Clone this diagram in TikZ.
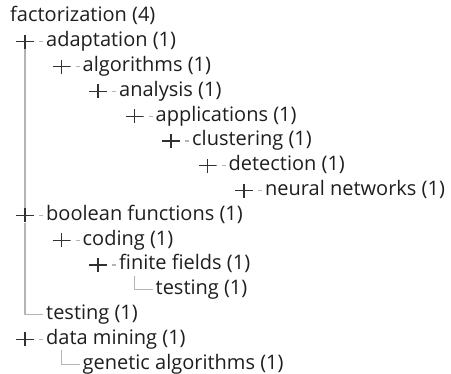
\documentclass[tikz,border=0pt]{standalone}
\usepackage{fontspec}
\setmainfont{Open Sans}
\usetikzlibrary{positioning}
\definecolor{treegray}{RGB}{180,180,180}
\definecolor{plusgray}{RGB}{50,50,50}
\definecolor{termblack}{RGB}{30,30,30}
\tikzset{
  termnode/.style={anchor=west,inner sep=0pt,text height=14pt,text depth=4pt,text=termblack,font=\fontsize{20}{24}\selectfont},
  expander/.style={minimum width=18pt,minimum height=14pt,inner sep=0pt,
    path picture={\draw[plusgray,line width=1.3pt] (path picture bounding box.west) -- (path picture bounding box.east) (path picture bounding box.north) -- (path picture bounding box.south);}},
  treeline/.style={treegray,line width=1.2pt},
  stub/.style={treegray,line width=1.2pt,shorten <=5pt,shorten >=3pt},
}
\begin{document}
\begin{tikzpicture}[x=1pt,y=-1pt,line join=bevel]
  \useasboundingbox (0,0) rectangle (451,374);

  \node (node_0) at (10,17) [termnode] {factorization (4)};
  \node (node_1) at (46,41.8) [termnode] {adaptation (1)};
  \node (node_2) at (82.5,66.6) [termnode] {algorithms (1)};
  \node (node_3) at (119,91.4) [termnode] {analysis (1)};
  \node (node_4) at (155.5,116.2) [termnode] {applications (1)};
  \node (node_5) at (192,141) [termnode] {clustering (1)};
  \node (node_6) at (228.5,165.8) [termnode] {detection (1)};
  \node (node_7) at (265,190.6) [termnode] {neural networks (1)};
  \node (node_8) at (46,215.4) [termnode] {boolean functions (1)};
  \node (node_9) at (82.5,240.2) [termnode] {coding (1)};
  \node (node_10) at (119,265) [termnode] {finite fields (1)};
  \node (node_11) at (155.5,289.8) [termnode] {testing (1)};
  \node (node_12) at (46,314.6) [termnode] {testing (1)};
  \node (node_13) at (46,339.4) [termnode] {data mining (1)};
  \node (node_14) at (82.5,364.2) [termnode] {genetic algorithms (1)};

  \node (plus_1) at (25,41.8) [expander] {};
  \node (plus_2) at (61.5,66.6) [expander] {};
  \node (plus_3) at (98,91.4) [expander] {};
  \node (plus_4) at (134.5,116.2) [expander] {};
  \node (plus_5) at (171,141) [expander] {};
  \node (plus_6) at (207.5,165.8) [expander] {};
  \node (plus_7) at (244,190.6) [expander] {};
  \node (plus_8) at (25,215.4) [expander] {};
  \node (plus_9) at (61.5,240.2) [expander] {};
  \node (plus_10) at (98,265) [expander] {};
  \node (plus_13) at (25,339.4) [expander] {};

  \coordinate (top_11) at (134.5,276);
  \coordinate (top_14) at (61.5,350);

  \draw [treeline] (plus_1.south) -- (plus_8.north);
  \draw [treeline] (plus_8.south) |- ([xshift=-3pt]node_12.west);
  \draw [treeline] (top_11) |- ([xshift=-3pt]node_11.west);
  \draw [treeline] (top_14) |- ([xshift=-3pt]node_14.west);

  \draw [stub] (plus_1) -- (node_1);
  \draw [stub] (plus_2) -- (node_2);
  \draw [stub] (plus_3) -- (node_3);
  \draw [stub] (plus_4) -- (node_4);
  \draw [stub] (plus_5) -- (node_5);
  \draw [stub] (plus_6) -- (node_6);
  \draw [stub] (plus_7) -- (node_7);
  \draw [stub] (plus_8) -- (node_8);
  \draw [stub] (plus_9) -- (node_9);
  \draw [stub] (plus_10) -- (node_10);
  \draw [stub] (plus_13) -- (node_13);
%
\end{tikzpicture}
\end{document}
